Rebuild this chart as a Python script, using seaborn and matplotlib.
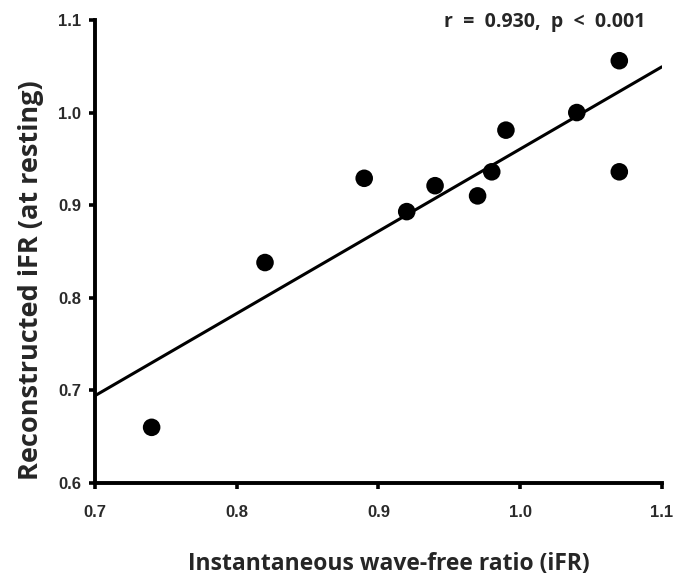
import matplotlib
matplotlib.use("Agg")
import matplotlib.pyplot as plt
import seaborn as sns
import pandas as pd

ifr = [0.74, 0.82, 0.89, 0.92, 0.94, 0.97, 0.98, 0.99, 1.04, 1.07, 1.07]
recon = [0.660, 0.838, 0.929, 0.893, 0.921, 0.910, 0.936, 0.981, 1.000, 1.056, 0.936]
xticks = [0.7, 0.8, 0.9, 1.0, 1.1]
yticks = [0.6, 0.7, 0.8, 0.9, 1.0, 1.1]
xtick_labels = ["0.7", "0.8", "0.9", "1.0", "1.1"]
ytick_labels = ["0.6", "0.7", "0.8", "0.9", "1.0", "1.1"]

df = pd.DataFrame({"iFR": ifr, "recon": recon})

sns.set_style("white")
plt.rcParams["font.family"] = ["Open Sans", "DejaVu Sans"]

fig = plt.figure(figsize=(6.93, 5.79), dpi=100)
ax = fig.add_axes([0.137, 0.166, 0.818, 0.7995])
ax.set_xlim(0.7, 1.1)
ax.set_ylim(0.6, 1.1)

sns.regplot(data=df, x="iFR", y="recon", ax=ax, ci=None, truncate=False,
            scatter_kws=dict(s=160, color="black", edgecolor="none", alpha=1,
                             zorder=3),
            line_kws=dict(color="black", lw=2.2, zorder=2))
ax.set_xlim(0.7, 1.1)
ax.set_ylim(0.6, 1.1)

for s in ["top", "right"]:
    ax.spines[s].set_visible(False)
for s in ["left", "bottom"]:
    ax.spines[s].set_linewidth(2.8)
    ax.spines[s].set_color("black")
    ax.spines[s].set_capstyle("projecting")

ax.set_xticks(xticks)
ax.set_xticklabels(xtick_labels, fontfamily="Liberation Sans", fontweight="bold",
                   fontsize=12, color="#2a2a2a")
ax.set_yticks(yticks)
ax.set_yticklabels(ytick_labels, fontfamily="Liberation Sans", fontweight="bold",
                   fontsize=12, color="#2a2a2a")
ax.tick_params(axis="both", direction="out", length=4, width=2.6, color="black",
               bottom=True, left=True)
ax.tick_params(axis="x", pad=12)
ax.tick_params(axis="y", pad=6)

ax.set_xlabel("Instantaneous wave-free ratio (iFR)", fontsize=16.5,
              fontweight="bold")
ax.xaxis.set_label_coords(0.518, -0.15)
ax.set_ylabel("Reconstructed iFR (at resting)", fontsize=19.5,
              fontweight="bold")
ax.yaxis.set_label_coords(-0.09, 0.437)

ax.text(0.793, 0.995, "r  =  0.930,  p  <  0.001", transform=ax.transAxes,
        ha="center", va="center", fontsize=14, fontweight="bold")

fig.savefig("out.png", dpi=100)
